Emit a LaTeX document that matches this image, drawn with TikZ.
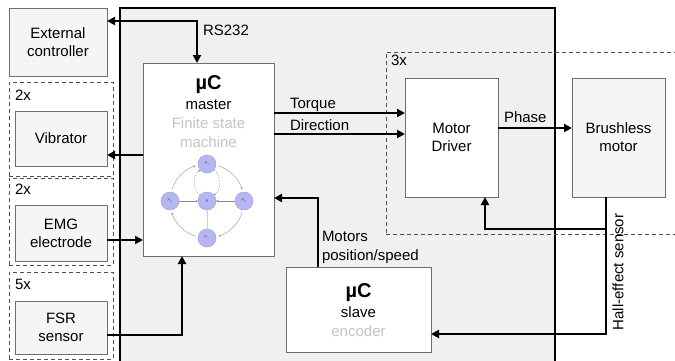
\documentclass[tikz,border=0pt]{standalone}
\usepackage{fontspec}
\setmainfont{Liberation Sans}
\usetikzlibrary{arrows.meta,calc}
\definecolor{boxgray}{HTML}{F5F5F5}
\definecolor{maingray}{HTML}{F0F0F0}
\definecolor{bordergray}{HTML}{6E6E6E}
\definecolor{groupgray}{HTML}{505050}
\definecolor{lighttext}{HTML}{C4C4C4}
\definecolor{statefill}{HTML}{B6B6F2}
\definecolor{stateborder}{HTML}{9C9CE0}
\definecolor{smgray}{HTML}{8A8A8A}
\begin{document}
\begin{tikzpicture}[x=1pt,y=-1pt,
  every node/.style={font=\fontsize{15}{18}\selectfont, inner sep=0pt, outer sep=0pt},
  mainbox/.style={draw=black, line width=2.5pt, fill=maingray, anchor=north west},
  box/.style={draw=bordergray, line width=1pt, fill=boxgray, anchor=north west, align=center},
  wbox/.style={box, fill=white},
  group/.style={draw=groupgray, line width=0.9pt, dash pattern=on 4pt off 3pt, anchor=north west},
  lbl/.style={anchor=base west},
  ctext/.style={anchor=base},
  conn/.style={line width=2pt, -{Triangle[length=8pt,width=8pt]}},
  conn2/.style={line width=2pt, {Triangle[length=8pt,width=8pt]}-{Triangle[length=8pt,width=8pt]}},
  state/.style={circle, draw=stateborder, line width=0.4pt, fill=statefill, minimum size=18pt, font=\fontsize{4}{4}\selectfont, text=black!70},
  sm/.style={draw=smgray, line width=0.35pt, -{Latex[length=2pt,width=2pt]}},
  smd/.style={sm, dash pattern=on 1.5pt off 1.5pt}
]
\clip (0,0) rectangle (675,360);
% main box
\node[mainbox, minimum width=435pt, minimum height=365pt] (main) at (120,8) {};
% dashed groups
\node[group, minimum width=104pt, minimum height=94pt] (g1) at (9,82) {};
\node[group, minimum width=104pt, minimum height=87pt] (g2) at (9,178) {};
\node[group, minimum width=104pt, minimum height=87pt] (g3) at (9,272) {};
\node[group, minimum width=300pt, minimum height=182pt] (g4) at (386,52) {};
\node[lbl] (l1) at (15,100) {2x};
\node[lbl] (l2) at (15,194) {2x};
\node[lbl] (l3) at (15,289) {5x};
\node[lbl] (l4) at (391,65) {3x};
% boxes
\node[box, minimum width=98pt, minimum height=68pt] (ext) at (9,8) {External\\controller};
\node[box, minimum width=92pt, minimum height=55pt] (vib) at (15,111) {Vibrator};
\node[box, minimum width=92pt, minimum height=56pt] (emg) at (15,205) {EMG\\electrode};
\node[box, minimum width=92pt, minimum height=53pt] (fsr) at (15,301) {FSR\\sensor};
\node[wbox, minimum width=131pt, minimum height=193pt] (master) at (143,63) {};
\node[wbox, minimum width=93pt, minimum height=119pt] (driver) at (405,78) {Motor\\Driver};
\node[box, minimum width=93pt, minimum height=119pt] (brush) at (572,78) {Brushless\\motor};
\node[wbox, minimum width=145pt, minimum height=85pt] (slave) at (286,267) {};
% master texts
\node[ctext, font=\bfseries\fontsize{20}{22}\selectfont] (muc1) at (208.5,89) {µC};
\node[ctext] (mt1) at (208.5,109) {master};
\node[ctext, text=lighttext] (mt2) at (208.5,128) {Finite state};
\node[ctext, text=lighttext] (mt3) at (208.5,147) {machine};
% slave texts
\node[ctext, font=\bfseries\fontsize{20}{22}\selectfont] (muc2) at (358.5,297) {µC};
\node[ctext] (st1) at (358.5,317) {slave};
\node[ctext, text=lighttext] (st2) at (358.5,336) {encoder};
% state machine
\node[state] (p1) at (207,164) {P\textsubscript{1}};
\node[state] (p0) at (170,201) {P\textsubscript{0}};
\node[state] (r) at (207,201) {R};
\node[state] (p2) at (244,201) {P\textsubscript{2}};
\node[state] (pn) at (207,238) {P\textsubscript{...}};
\coordinate (sc) at (207,201);
\draw[sm] ($(sc)+(198:37)$) arc[start angle=198, end angle=252, radius=37];
\draw[sm] ($(sc)+(288:37)$) arc[start angle=288, end angle=342, radius=37];
\draw[sm] ($(sc)+(18:37)$) arc[start angle=18, end angle=72, radius=37];
\draw[sm] ($(sc)+(108:37)$) arc[start angle=108, end angle=162, radius=37];
\draw[sm] (p0) -- (r);
\draw[sm] (p2) -- (r);
\draw[sm, draw=smgray!40] (pn) -- (r);
\draw[smd] (r) to[bend left=50] (p1);
\draw[smd] (p1) to[bend left=50] (r);
% connectors
\coordinate (rs) at (197,21);
\draw[conn2] (ext.east |- rs) -- (rs) -- (master.north -| rs);
\node[lbl] (rslbl) at (203,35) {RS232};
\coordinate (vy) at (0,155);
\draw[conn] (master.west |- vy) -- (vib.east |- vy);
\coordinate (ey) at (0,240);
\draw[conn] (emg.east |- ey) -- (master.west |- ey);
\coordinate (fx) at (182,335);
\draw[conn] (fsr.east |- fx) -- (fx) -- (master.south -| fx);
\coordinate (ty) at (0,113);
\coordinate (dy) at (0,134);
\draw[conn] (master.east |- ty) -- (driver.west |- ty);
\draw[conn] (master.east |- dy) -- (driver.west |- dy);
\node[lbl] (tq) at (290,108) {Torque};
\node[lbl] (dr) at (290,130) {Direction};
\coordinate (py) at (0,128);
\draw[conn] (driver.east |- py) -- (brush.west |- py);
\node[lbl] (ph) at (504,122) {Phase};
\coordinate (h1) at (606,229);
\coordinate (h2) at (606,334);
\coordinate (h3) at (485,229);
\draw[conn] (brush.south -| h1) -- (h2) -- (slave.east |- h2);
\draw[conn] (h1) -- (h3) -- (driver.south -| h3);
\node[rotate=90] (hall) at (618,272) {Hall-effect sensor};
\coordinate (m1) at (318,198);
\draw[conn] (slave.north -| m1) -- (m1) -- (master.east |- m1);
\node[lbl] (mo1) at (322,241) {Motors};
\node[lbl] (mo2) at (322,260) {position/speed};
\end{tikzpicture}
\end{document}
